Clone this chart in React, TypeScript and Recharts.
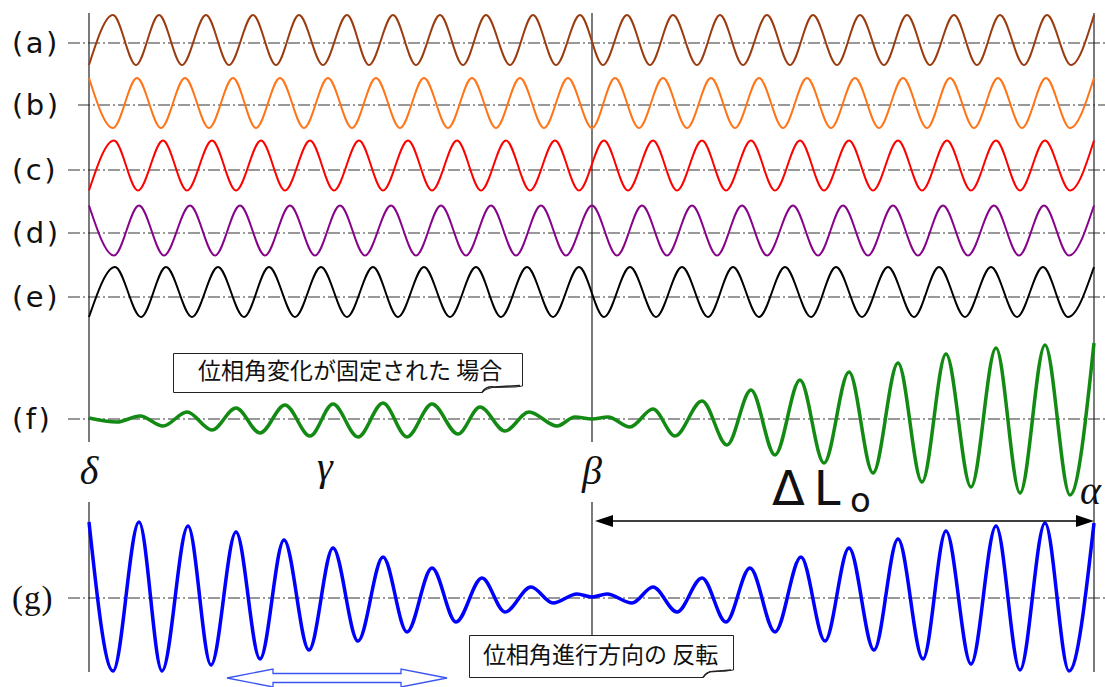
import React from 'react';
import { LineChart, Line, XAxis, YAxis, ReferenceLine } from 'recharts';

// positions along the path, δ = 0, β = 503, α = 1005
// rows (a)-(e): where each wave reaches its crest (+1) and its trough (-1)
const aPeaks = [24, 70, 117, 164, 210, 258, 304, 351, 397, 444, 491, 538, 584, 631, 678, 724, 771, 818, 865, 911, 958, 1005];
const aTroughs = [0, 47, 93, 140, 187, 234, 280, 327, 374, 421, 467, 514, 561, 608, 654, 701, 748, 795, 841, 888, 935, 982];

const bPeaks = [0, 48, 96, 144, 191, 239, 287, 335, 383, 431, 479, 526, 574, 622, 670, 718, 766, 814, 861, 909, 957, 1005];
const bTroughs = [24, 72, 120, 167, 215, 263, 311, 359, 407, 455, 503, 550, 598, 646, 694, 742, 790, 838, 885, 933, 981];

const cPeaks = [25, 74, 123, 172, 221, 270, 319, 368, 417, 466, 515, 564, 613, 662, 711, 760, 809, 858, 907, 956, 1005];
const cTroughs = [0, 49, 98, 147, 196, 245, 294, 343, 392, 441, 490, 539, 588, 637, 686, 735, 784, 833, 882, 931, 981];

const dPeaks = [0, 50, 101, 151, 201, 251, 302, 352, 402, 452, 503, 553, 603, 653, 704, 754, 804, 854, 905, 955, 1005];
const dTroughs = [25, 75, 126, 176, 226, 276, 327, 377, 427, 477, 528, 578, 628, 678, 729, 779, 829, 879, 930, 980];

const ePeaks = [26, 77, 129, 180, 232, 284, 335, 387, 438, 490, 541, 593, 644, 696, 747, 799, 850, 902, 954, 1005];
const eTroughs = [0, 52, 103, 155, 206, 258, 309, 361, 412, 464, 515, 567, 619, 670, 722, 773, 825, 876, 928, 979];

// rows (f), (g): extrema positions and their amplitude (arb. units)
const fPos = [0, 28, 51, 74, 98, 123, 147, 171, 196, 221, 244, 269, 294, 318, 343, 369, 391, 416, 440, 468, 486, 503, 519, 541, 564, 586, 613, 638, 662, 686, 711, 735, 760, 784, 809, 833, 857, 882, 907, 931, 956, 981, 1005];
const fAmp = [1, -3, 3, -7, 7, -11, 11, -14, 14, -17, 15, -18, 16, -18, 15, -15, 12, -12, 7, -7, 2, 0, 2, -8, 10, -17, 18, -26, 29, -36, 39, -44, 47, -54, 56, -63, 65, -68, 71, -74, 74, -76, 76];

const gPos = [0, 24, 50, 73, 99, 122, 147, 171, 195, 220, 244, 269, 294, 318, 343, 367, 393, 416, 442, 464, 488, 503, 518, 543, 564, 588, 613, 637, 661, 686, 712, 736, 760, 785, 809, 834, 857, 882, 907, 931, 956, 980, 1005];
const gAmp = [76, -73, 76, -73, 72, -67, 66, -61, 58, -52, 50, -43, 41, -34, 30, -24, 20, -14, 11, -5, 4, 1, 4, -5, 11, -14, 20, -24, 30, -34, 41, -43, 50, -52, 59, -61, 67, -66, 72, -72, 75, -73, 75];

const rowLabels = ['(a)', '(b)', '(c)', '(d)', '(e)', '(f)', '(g)'];
const greek = [
  { ch: 'δ', pos: 0 },
  { ch: 'γ', pos: 236 },
  { ch: 'β', pos: 503 },
  { ch: 'α', pos: 1005 },
];

const W = 1105;
const H = 687;

type Pt = { x: number; y: number };

function wave(peaks: number[], troughs: number[]): Pt[] {
  const pts = [...peaks.map((x) => ({ x, y: 1 })), ...troughs.map((x) => ({ x, y: -1 }))];
  return pts.sort((p, q) => p.x - q.x);
}

function trace(pos: number[], amp: number[]): Pt[] {
  return pos.map((x, i) => ({ x, y: amp[i] }));
}

// layout: center = px of the wave's zero line, scale = px per unit, guide = px of dash-dot line
const rows = [
  { id: 'a', data: wave(aPeaks, aTroughs), color: '#9a3c10', sw: 2, center: 40, scale: 25, guide: 43, guideFrom: -21 },
  { id: 'b', data: wave(bPeaks, bTroughs), color: '#ff7417', sw: 2, center: 103, scale: 25, guide: 105, guideFrom: -11 },
  { id: 'c', data: wave(cPeaks, cTroughs), color: '#ff0000', sw: 2, center: 165.5, scale: 25, guide: 170, guideFrom: -21 },
  { id: 'd', data: wave(dPeaks, dTroughs), color: '#86038a', sw: 2, center: 230.5, scale: 25, guide: 233, guideFrom: -21 },
  { id: 'e', data: wave(ePeaks, eTroughs), color: '#000000', sw: 2, center: 292, scale: 25, guide: 297, guideFrom: -21 },
  { id: 'f', data: trace(fPos, fAmp), color: '#138a13', sw: 3.5, center: 419, scale: 1, guide: 419, guideFrom: -21 },
  { id: 'g', data: trace(gPos, gAmp), color: '#0000ff', sw: 3.5, center: 598, scale: 1, guide: 598, guideFrom: -21 },
];

const verticals = [
  { x: 0, spans: [[13, 442], [502, 672]] },
  { x: 503, spans: [[13, 442], [502, 635]] },
  { x: 1005, spans: [[13, 672]] },
];

const DeltaArrow = (props: any) => {
  const { x1, y1, x2 } = props;
  const L = Math.min(x1, x2);
  const R = Math.max(x1, x2);
  return (
    <g>
      <line x1={L + 4} y1={y1} x2={R - 4} y2={y1} stroke="#000" strokeWidth={1.5} />
      <polygon points={`${L + 1},${y1} ${L + 19},${y1 - 6} ${L + 19},${y1 + 6}`} fill="#000" />
      <polygon points={`${R},${y1} ${R - 18},${y1 - 6} ${R - 18},${y1 + 6}`} fill="#000" />
    </g>
  );
};

const HollowArrow = (props: any) => {
  const { x1, y1, x2 } = props;
  const L = Math.min(x1, x2);
  const R = Math.max(x1, x2);
  const y = y1;
  const hl = 46;
  const pts = [
    [L, y], [L + hl, y - 9], [L + hl, y - 4.5], [R - hl, y - 4.5], [R - hl, y - 9], [R, y],
    [R - hl, y + 9], [R - hl, y + 4.5], [L + hl, y + 4.5], [L + hl, y + 9],
  ];
  return <polygon points={pts.map((p) => p.join(',')).join(' ')} fill="#fff" stroke="#3a55f0" strokeWidth={1.3} />;
};

export default function App() {
  const toPx = (pos: number) => pos + 89;
  return (
    <div style={{ position: 'absolute', left: 0, top: 0, width: W, height: H, background: '#fff' }}>
      <LineChart width={W} height={H} margin={{ top: 0, right: 0, bottom: 0, left: 0 }}>
        <XAxis type="number" dataKey="x" domain={[-89, 1016]} hide allowDataOverflow />
        {rows.map((r) => (
          <YAxis
            key={r.id}
            yAxisId={r.id}
            type="number"
            domain={[-(H - r.center) / r.scale, r.center / r.scale]}
            hide
            allowDataOverflow
          />
        ))}
        <YAxis yAxisId="frame" type="number" domain={[0, H]} reversed hide allowDataOverflow />

        {rows.map((r) => (
          <ReferenceLine
            key={'guide-' + r.id}
            yAxisId="frame"
            segment={[{ x: r.guideFrom, y: r.guide }, { x: 1016, y: r.guide }]}
            stroke="#333"
            strokeWidth={1}
            strokeDasharray="12 3 2 3"
            ifOverflow="visible"
          />
        ))}
        {verticals.map((v) =>
          v.spans.map((s, i) => (
            <ReferenceLine
              key={'v-' + v.x + '-' + i}
              yAxisId="frame"
              segment={[{ x: v.x, y: s[0] }, { x: v.x, y: s[1] }]}
              stroke="#222"
              strokeWidth={1.2}
              ifOverflow="visible"
            />
          ))
        )}

        {rows.map((r) => (
          <Line
            key={r.id}
            data={r.data}
            dataKey="y"
            yAxisId={r.id}
            type="monotone"
            stroke={r.color}
            strokeWidth={r.sw}
            dot={false}
            activeDot={false}
            isAnimationActive={false}
          />
        ))}

        <ReferenceLine
          yAxisId="frame"
          segment={[{ x: 505, y: 521 }, { x: 1005, y: 521 }]}
          shape={DeltaArrow}
          ifOverflow="visible"
        />
        <ReferenceLine
          yAxisId="frame"
          segment={[{ x: 138, y: 678 }, { x: 358, y: 678 }]}
          shape={HollowArrow}
          ifOverflow="visible"
        />
      </LineChart>

      <svg width={W} height={H} style={{ position: 'absolute', left: 0, top: 0, pointerEvents: 'none' }}>
        {rowLabels.map((t, i) => (
          <text
            key={t}
            x={12}
            y={rows[i].guide}
            dominantBaseline="central"
            fontFamily={t === '(g)' ? 'Liberation Serif' : 'DejaVu Sans'}
            fontSize={t === '(g)' ? 33 : 29}
            letterSpacing={t === '(g)' ? 1 : 2.5}
            fill="#111"
          >
            {t}
          </text>
        ))}

        {greek.map((g) => (
          <text
            key={g.ch}
            x={toPx(g.pos)}
            y={g.ch === 'α' ? 504 : g.ch === 'γ' ? 480 : 484}
            textAnchor={g.ch === 'α' ? 'start' : 'middle'}
            dx={g.ch === 'α' ? -14 : 0}
            fontFamily="Liberation Serif"
            fontStyle="italic"
            fontSize={40}
            fill="#111"
          >
            {g.ch}
          </text>
        ))}

        <text x={772} y={505} fontFamily="DejaVu Sans" fontSize={48} letterSpacing={9} fill="#111">
          ΔL
        </text>
        <text x={850} y={512} fontFamily="DejaVu Sans" fontSize={34} fill="#111">
          o
        </text>

        <path
          d="M173.5,353.5 H522.5 V386 L515,387 L492,387.5 Q485,389 482,392.5 H173.5 Z"
          fill="#fff"
          stroke="#222"
          strokeWidth={1}
        />
        <path d="M482,392.5 Q486,386 494,387 L520,385.5" fill="none" stroke="#222" strokeWidth={1.5} />
        <text x={198} y={369} dominantBaseline="central" fontFamily="Noto Sans CJK JP" fontSize={23} fill="#111">
          位相角変化が固定された 場合
        </text>

        <path
          d="M469.5,635.5 H733.5 V670 L726,671 L710,671.5 Q706,673 703,677.5 H469.5 Z"
          fill="#fff"
          stroke="#222"
          strokeWidth={1}
        />
        <path d="M703,677.5 Q707,671 714,671.5 L731,670" fill="none" stroke="#222" strokeWidth={1.5} />
        <text x={483} y={653} dominantBaseline="central" fontFamily="Noto Sans CJK JP" fontSize={23} fill="#111">
          位相角進行方向の 反転
        </text>
      </svg>
    </div>
  );
}
